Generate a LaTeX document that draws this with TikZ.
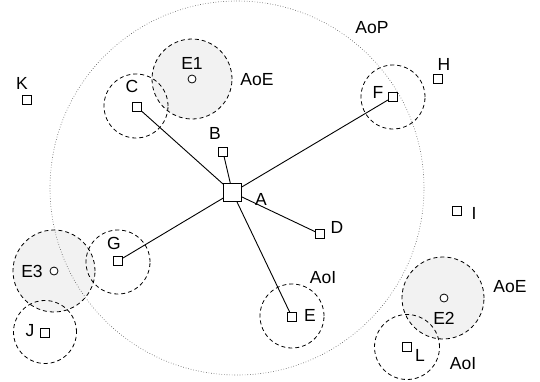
\documentclass[tikz,border=0pt]{standalone}
\usepackage{fontspec}
\setmainfont{Liberation Sans}
\begin{document}
\begin{tikzpicture}[x=1pt,y=-1pt,
  sq/.style={draw,fill=white,minimum size=9pt,inner sep=0pt,line width=0.8pt},
  bigsq/.style={sq,minimum size=18pt},
  ev/.style={draw,circle,fill=white,minimum size=8pt,inner sep=0pt,line width=0.8pt},
  lbl/.style={inner sep=0pt,font=\fontsize{17.5}{19}\selectfont},
  area/.style={draw,dashed,dash pattern=on 4pt off 3pt,line width=0.8pt,circle,inner sep=0pt},
  aoe/.style={area,fill=black!5},
  link/.style={line width=0.9pt}]
\useasboundingbox (0,0) rectangle (540,381);
% areas of effect (shaded)
\node[aoe,minimum size=80pt] (E1a) at (192,79) {};
\node[aoe,minimum size=82pt] (E3a) at (54,271) {};
\node[aoe,minimum size=82pt] (E2a) at (443,298) {};
% area of perception
\node[draw=black!70,dotted,line width=0.6pt,circle,minimum size=374pt,inner sep=0pt] (AoP) at (237,188) {};
% areas of interest
\node[area,minimum size=64pt] (Ca) at (136,106) {};
\node[area,minimum size=64pt] (Fa) at (393,97) {};
\node[area,minimum size=64pt] (Ga) at (118,262) {};
\node[area,minimum size=63pt] (Ja) at (45,332) {};
\node[area,minimum size=64pt] (Ea) at (292,316) {};
\node[area,minimum size=65pt] (La) at (407,347) {};
% nodes
\node[bigsq] (A) at (232.5,192.5) {};
\node[sq] (B) at (223,152) {};
\node[sq] (C) at (137,107) {};
\node[sq] (D) at (320,234) {};
\node[sq] (E) at (292,317) {};
\node[sq] (F) at (393,97) {};
\node[sq] (G) at (118,261) {};
\node[sq] (H) at (438,79) {};
\node[sq] (I) at (457,211) {};
\node[sq] (J) at (45,333) {};
\node[sq] (K) at (27,100) {};
\node[sq] (L) at (407,347) {};
\node[ev] (E1) at (192,79) {};
\node[ev] (E2) at (444,298) {};
\node[ev] (E3) at (54,271) {};
% links
\draw[link] (A) -- (B);
\draw[link] (A) -- (C);
\draw[link] (A) -- (D);
\draw[link] (A) -- (E);
\draw[link] (A) -- (F);
\draw[link] (A) -- (G);
% labels
\node[lbl] (lA) at (261,199) {A};
\node[lbl] (lB) at (215,133) {B};
\node[lbl] (lC) at (132,86) {C};
\node[lbl] (lD) at (337,227) {D};
\node[lbl] (lE) at (310,315) {E};
\node[lbl] (lF) at (378,92) {F};
\node[lbl] (lG) at (114,243) {G};
\node[lbl] (lH) at (444,64) {H};
\node[lbl] (lI) at (474,213) {I};
\node[lbl] (lJ) at (30,331) {J};
\node[lbl] (lK) at (22,83) {K};
\node[lbl] (lL) at (420,355) {L};
\node[lbl] (lE1) at (192,63) {E1};
\node[lbl] (lE2) at (444,318) {E2};
\node[lbl] (lE3) at (32,271) {E3};
\node[lbl] (lAoE1) at (257,80) {AoE};
\node[lbl] (lAoE2) at (510,287) {AoE};
\node[lbl] (lAoP) at (372,28) {AoP};
\node[lbl] (lAoI1) at (323,278) {AoI};
\node[lbl] (lAoI2) at (463,364) {AoI};
\end{tikzpicture}
\end{document}
